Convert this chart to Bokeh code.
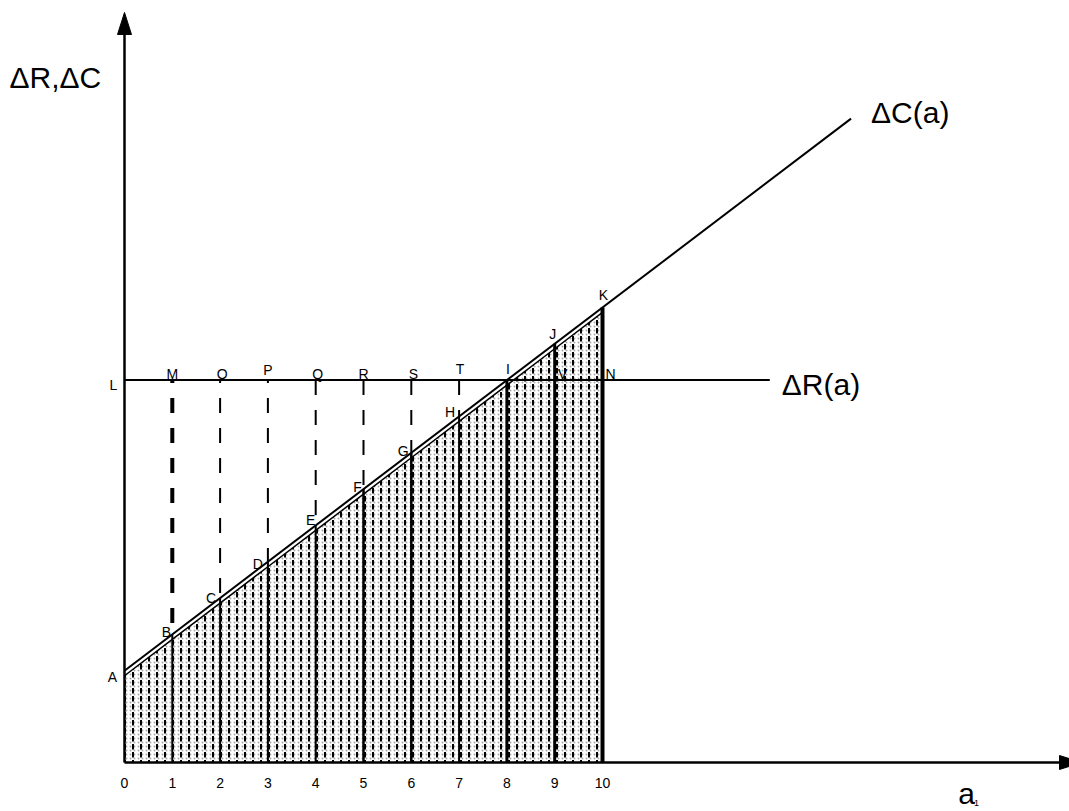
from bokeh.plotting import figure
from bokeh.models import Range1d
from bokeh.embed import file_html
from bokeh.resources import INLINE
from bokeh.core.properties import value

# ---------------- data ----------------
a_vals = [0, 1, 2, 3, 4, 5, 6, 7, 8, 9, 10]
tick_labels = ["0", "1", "2", "3", "4", "5", "6", "7", "8", "9", "10"]
dC_vals = [1.92, 2.68, 3.44, 4.20, 4.96, 5.72, 6.48, 7.24, 8.00, 8.76, 9.52]
dC_end_a = 15.2
dC_end_val = 13.47
dR_val = 8.0
dR_end_a = 13.5
point_labels = ["A", "B", "C", "D", "E", "F", "G", "H", "I", "J", "K"]
r_labels = ["L", "M", "O", "P", "Q", "R", "S", "T", "", "V", "N"]

# ---------------- layout ----------------
PX = 47.8                      # pixels per data unit
W, H = 1069, 811
X0 = -124 / PX
X1 = X0 + W / PX
Y1 = 762 / PX
Y0 = Y1 - H / PX
FONT = value("Liberation Sans")

p = figure(width=W, height=H, x_range=Range1d(X0, X1), y_range=Range1d(Y0, Y1),
           output_backend="svg", toolbar_location=None, min_border=0,
           x_axis_location=None, y_axis_location=None)
p.grid.visible = False
p.outline_line_color = None
p.background_fill_color = "white"

gap = 5 / PX
inner = [v - gap for v in dC_vals]

# shaded strips
for i in range(len(a_vals) - 1):
    xs = [a_vals[i], a_vals[i], a_vals[i + 1], a_vals[i + 1]]
    ys = [0, inner[i], inner[i + 1], 0]
    p.patch(xs, ys, fill_color="white", line_color=None,
            hatch_pattern=".", hatch_color="#a8a8a8", hatch_scale=4, hatch_weight=1)
    p.patch(xs, ys, fill_alpha=0, line_color=None,
            hatch_pattern=":", hatch_color="black", hatch_scale=8, hatch_weight=2)

# inner boundary of shading
p.line(a_vals, inner, line_color="black", line_width=1.5)

# dashed drop lines from ΔR down to ΔC
for k in range(1, 8):
    p.segment(x0=[a_vals[k]], y0=[dR_val], x1=[a_vals[k]], y1=[dC_vals[k]],
              line_color="black", line_width=4 if k == 1 else 2,
              line_dash="15 15", line_dash_offset=12 if k <= 3 else 0)

# solid verticals
widths = [2, 2, 2, 2, 2.5, 2.5, 2, 3, 3, 4]
for k in range(1, 11):
    p.segment(x0=[a_vals[k]], y0=[0], x1=[a_vals[k]], y1=[dC_vals[k]],
              line_color="black", line_width=widths[k - 1])

# ΔC line
p.line([a_vals[0], dC_end_a], [dC_vals[0], dC_end_val], line_color="black", line_width=2)
# ΔR line
p.line([a_vals[0], dR_end_a], [dR_val, dR_val], line_color="black", line_width=2)

# axes
y_tip = 750 / PX
x_tip = (1081 - 124) / PX
p.line([0, 0], [0, y_tip - 10 / PX], line_color="black", line_width=2.5)
p.line([0, x_tip - 10 / PX], [0, 0], line_color="black", line_width=2.5)
alen, ahw = 22 / PX, 7 / PX
p.patch([0, -ahw, ahw], [y_tip, y_tip - alen, y_tip - alen], fill_color="black", line_color="black")
p.patch([x_tip, x_tip - alen, x_tip - alen], [0, ahw, -ahw], fill_color="black", line_color="black")

# tick labels
p.text(x=a_vals, y=[0] * len(a_vals), text=tick_labels, y_offset=20,
       text_align="center", text_baseline="middle", text_font=FONT,
       text_font_size="14px", text_color="black")

# point labels on ΔC
pl_dx = [-12, -6, -9, -10, -5, -6, -8, -9, 1, -2, 1]
pl_dy = [6, -2, 0, 2, -5, -2, -2, -4, -11, -10, -12]
for i, t in enumerate(point_labels):
    p.text(x=[a_vals[i]], y=[dC_vals[i]], text=[t], x_offset=pl_dx[i], y_offset=pl_dy[i],
           text_align="center", text_baseline="middle", text_font=FONT,
           text_font_size="14px", text_color="black")

# labels on ΔR
rl_dx = [-11, 0, 2, 0, 2, 0, 2, 1, 0, 8, 8]
rl_dy = [5, -6, -6, -10, -6, -6, -6, -11, 0, -6, -6]
for i, t in enumerate(r_labels):
    if not t:
        continue
    p.text(x=[a_vals[i]], y=[dR_val], text=[t], x_offset=rl_dx[i], y_offset=rl_dy[i],
           text_align="center", text_baseline="middle", text_font=FONT,
           text_font_size="14px", text_color="black")

# big labels
p.text(x=[dC_end_a], y=[dC_end_val], text=["ΔC(a)"], x_offset=20, y_offset=-6,
       text_align="left", text_baseline="middle", text_font=FONT,
       text_font_size="30px", text_color="black")
p.text(x=[dR_end_a], y=[dR_val], text=["ΔR(a)"], x_offset=12, y_offset=4,
       text_align="left", text_baseline="middle", text_font=FONT,
       text_font_size="30px", text_color="black")
p.text(x=[0], y=[Y1], text=["ΔR,ΔC"], x_offset=-115, y_offset=77,
       text_align="left", text_baseline="middle", text_font=FONT,
       text_font_size="30px", text_color="black")
p.text(x=[(966 - 124) / PX], y=[Y0], text=["a"], y_offset=-18,
       text_align="center", text_baseline="middle", text_font=FONT,
       text_font_size="30px", text_color="black")
p.text(x=[(966 - 124) / PX], y=[Y0], text=["1"], x_offset=10, y_offset=-9,
       text_align="center", text_baseline="middle", text_font=FONT,
       text_font_size="9px", text_color="black")

open("out.html", "w").write(file_html(p, INLINE))
